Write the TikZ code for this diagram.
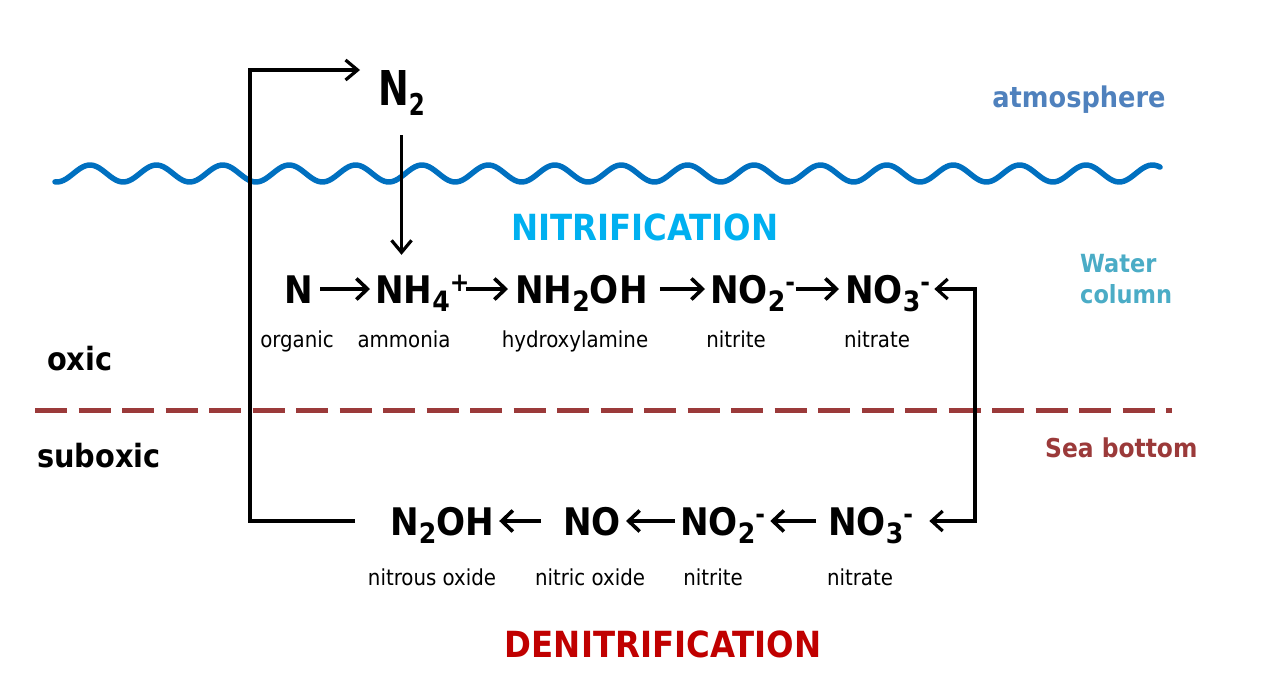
\documentclass[tikz,border=0pt]{standalone}
\usepackage{fontspec}
\setmainfont{DejaVu Sans Condensed}
\usetikzlibrary{arrows.meta}
\definecolor{wavec}{HTML}{0070C0}
\definecolor{atmc}{HTML}{4F81BD}
\definecolor{waterc}{HTML}{4BACC6}
\definecolor{nitc}{HTML}{00B0F0}
\definecolor{denc}{HTML}{C00000}
\definecolor{seac}{HTML}{9B3A3A}
\newcommand\chsb[1]{\raisebox{-8pt}{\fontsize{28}{28}\selectfont #1}}
\newcommand\chsp[1]{\raisebox{12pt}{\fontsize{26}{26}\selectfont #1}}
\begin{document}
\begin{tikzpicture}[x=1pt,y=-1pt,
  formula/.style={anchor=west,inner sep=0pt,text height=28pt,text depth=0pt,
    font=\fontsize{38}{38}\selectfont\bfseries},
  lbl/.style={anchor=base,inner sep=0pt,font=\fontsize{22}{22}\selectfont},
  fa/.style={line width=3.6pt,-{Straight Barb[length=11pt,width=21pt]}},
  lk/.style={line width=3.2pt},
  tipk/.style={-{Straight Barb[length=12pt,width=20pt]}},
  wave/.style={wavec,line width=5.5pt,line cap=round},
  seabed/.style={seac,line width=5pt,dash pattern=on 32pt off 11.5pt},
  ttl/.style={anchor=base,inner sep=0pt,font=\fontsize{36}{36}\selectfont\bfseries}
]
\useasboundingbox (0,0) rectangle (1268,678);
% water surface and sea bottom
\draw[wave] plot[domain=55:1160,samples=400,smooth] (\x,{173.5-8.5*cos(5.42169*(\x-90))});
\draw[seabed] (35,410) -- (1172,410);
% region labels
\node[anchor=base,inner sep=0pt,text=atmc,font=\fontsize{28.5}{28.5}\selectfont\bfseries] (atm) at (1079,107) {atmosphere};
\node[anchor=base west,inner sep=0pt,text=waterc,font=\fontsize{25}{25}\selectfont\bfseries] (water) at (1080,272) {Water};
\node[anchor=base west,inner sep=0pt,text=waterc,font=\fontsize{25}{25}\selectfont\bfseries] (column) at (1080,303) {column};
\node[anchor=base west,inner sep=0pt,font=\fontsize{32}{32}\selectfont\bfseries] (oxic) at (47,370) {oxic};
\node[anchor=base west,inner sep=0pt,font=\fontsize{32}{32}\selectfont\bfseries] (suboxic) at (37,467) {suboxic};
\node[anchor=base west,inner sep=0pt,text=seac,font=\fontsize{26}{26}\selectfont\bfseries] (sea) at (1045,457) {Sea bottom};
\node[ttl,text=nitc] (nit) at (645,240) {NITRIFICATION};
\node[ttl,text=denc] (den) at (663,657) {DENITRIFICATION};
% N2
\node[anchor=west,inner sep=0pt,text height=35pt,text depth=0pt,font=\fontsize{48}{48}\selectfont\bfseries] (N2) at (378,87.5)
  {\scalebox{0.85}[1]{N\raisebox{-10pt}{\fontsize{30}{30}\selectfont 2}}};
% nitrification row
\node[formula] (tN) at (284,289) {N};
\node[formula] (tNH4) at (375,289) {NH\chsb{4}\chsp{+}};
\node[formula] (tNH2OH) at (515,289) {NH\chsb{2}OH};
\node[formula] (tNO2) at (710,289) {NO\chsb{2}\chsp{-}};
\node[formula] (tNO3) at (845,289) {NO\chsb{3}\chsp{-}};
\node[lbl] (lorg) at (297,347) {organic};
\node[lbl] (lamm) at (404,347) {ammonia};
\node[lbl] (lhyd) at (575,347) {hydroxylamine};
\node[lbl] (lnit1) at (736,347) {nitrite};
\node[lbl] (lnat1) at (877,347) {nitrate};
% denitrification row
\node[formula] (bN2OH) at (390,521) {N\chsb{2}OH};
\node[formula] (bNO) at (563,521) {NO};
\node[formula] (bNO2) at (680,521) {NO\chsb{2}\chsp{-}};
\node[formula] (bNO3) at (828,521) {NO\chsb{3}\chsp{-}};
\node[lbl] (lnox) at (432,585) {nitrous oxide};
\node[lbl] (lnic) at (590,585) {nitric oxide};
\node[lbl] (lnit2) at (713,585) {nitrite};
\node[lbl] (lnat2) at (860,585) {nitrate};
% reaction arrows
\draw[fa,shorten <=7pt,shorten >=5pt] (tN.east) -- (tNH4.west);
\draw[fa,shorten <=-4pt,shorten >=7pt] (tNH4.east) -- (tNH2OH.west);
\draw[fa,shorten <=12pt,shorten >=5pt] (tNH2OH.east) -- (tNO2.west);
\draw[fa,shorten <=1pt,shorten >=6pt] (tNO2.east) -- (tNO3.west);
\draw[fa,shorten <=22pt,shorten >=5pt] (bNO.west) -- (bN2OH.east);
\draw[fa,shorten <=5pt,shorten >=5pt] (bNO2.west) -- (bNO.east);
\draw[fa,shorten <=12pt,shorten >=5pt] (bNO3.west) -- (bNO2.east);
% loops
\coordinate (rt) at (975,289);
\coordinate (rb) at (975,521);
\draw[lk,{Straight Barb[length=11pt,width=20pt]}-{Straight Barb[length=11pt,width=20pt]},shorten <=4pt,shorten >=16pt]
  (tNO3.east) -- (rt) -- (rb) -- (bNO3.east);
\coordinate (ll) at (250,521);
\coordinate (lt) at (360,70);
\draw[lk,tipk] ([xshift=-35pt]bN2OH.west) -- (ll) |- (lt);
\draw[lk,tipk,shorten <=30pt,shorten >=20pt] (N2.south) -- (N2.south |- tNH4.north);
\end{tikzpicture}
\end{document}
